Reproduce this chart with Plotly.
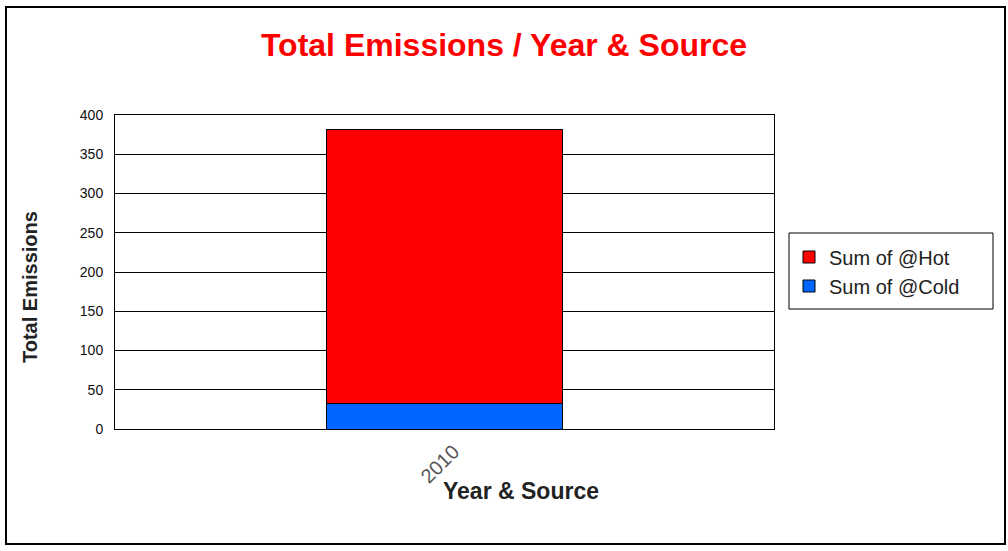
import plotly.graph_objects as go

categories = ["2010"]
cold_values = [33]
hot_values = [349]
series_names = ["Sum of @Cold", "Sum of @Hot"]
series_colors = ["#0066FF", "#FF0000"]
y_ticks = [0, 50, 100, 150, 200, 250, 300, 350, 400]

W, H = 1008, 551
L, R, T, B = 115, 774, 115, 429
pw, ph = R - L, B - T

def px(x):
    return (x - L) / pw

def py(y):
    return (B - y) / ph

fig = go.Figure()
for name, vals, col in zip(series_names, [cold_values, hot_values], series_colors):
    fig.add_trace(go.Bar(
        x=categories, y=vals, name=name,
        marker=dict(color=col, line=dict(color="#000000", width=1)),
    ))

fig.update_layout(
    width=W, height=H,
    margin=dict(l=L, r=W - R, t=T, b=H - B, autoexpand=False),
    paper_bgcolor="white", plot_bgcolor="white",
    barmode="stack", bargap=0.642,
    font=dict(family="Liberation Sans, Arial, sans-serif", color="#222222"),
    title=dict(text="<b>Total Emissions / Year & Source</b>",
               font=dict(size=32, color="#FF0000"),
               x=0.5, xanchor="center", y=1 - 45 / H, yanchor="middle"),
    showlegend=True,
    legend=dict(x=px(789), y=py(237.5), xanchor="left", yanchor="top",
                borderwidth=0, bgcolor="rgba(0,0,0,0)",
                font=dict(size=20, color="#222222"),
                traceorder="reversed"),
    xaxis=dict(type="category", showgrid=False, showline=True, mirror=True,
               linecolor="#000000", linewidth=1, ticks="", tickangle=-45,
               tickfont=dict(size=20, color="#555555"),
               ticklabelstandoff=2, ticklabelshift=9),
    yaxis=dict(range=[0, 400], tickvals=y_ticks, showgrid=True,
               gridcolor="#000000", gridwidth=1, showline=True, mirror=True,
               linecolor="#000000", linewidth=1, ticks="", zeroline=False,
               tickfont=dict(size=14, color="#111111"), ticklabelstandoff=8),
    annotations=[
        dict(text="<b>Year & Source</b>", xref="paper", yref="paper",
             x=px(521), y=py(491), xanchor="center", yanchor="middle",
             showarrow=False, font=dict(size=23, color="#222222")),
        dict(text="<b>Total Emissions</b>", xref="paper", yref="paper",
             x=px(30), y=py(287), xanchor="center", yanchor="middle",
             textangle=-90, showarrow=False, font=dict(size=20, color="#222222")),
    ],
    shapes=[
        dict(type="rect", xref="paper", yref="paper",
             x0=px(6), x1=px(1005), y0=py(544), y1=py(7),
             line=dict(color="#000000", width=2), layer="below"),
        dict(type="rect", xref="paper", yref="paper",
             x0=px(789), x1=px(993), y0=py(309), y1=py(233),
             line=dict(color="#000000", width=1), layer="below"),
    ],
)

fig.write_html("out.html", config={"displayModeBar": False},
               post_script="document.body.style.margin='0';")
